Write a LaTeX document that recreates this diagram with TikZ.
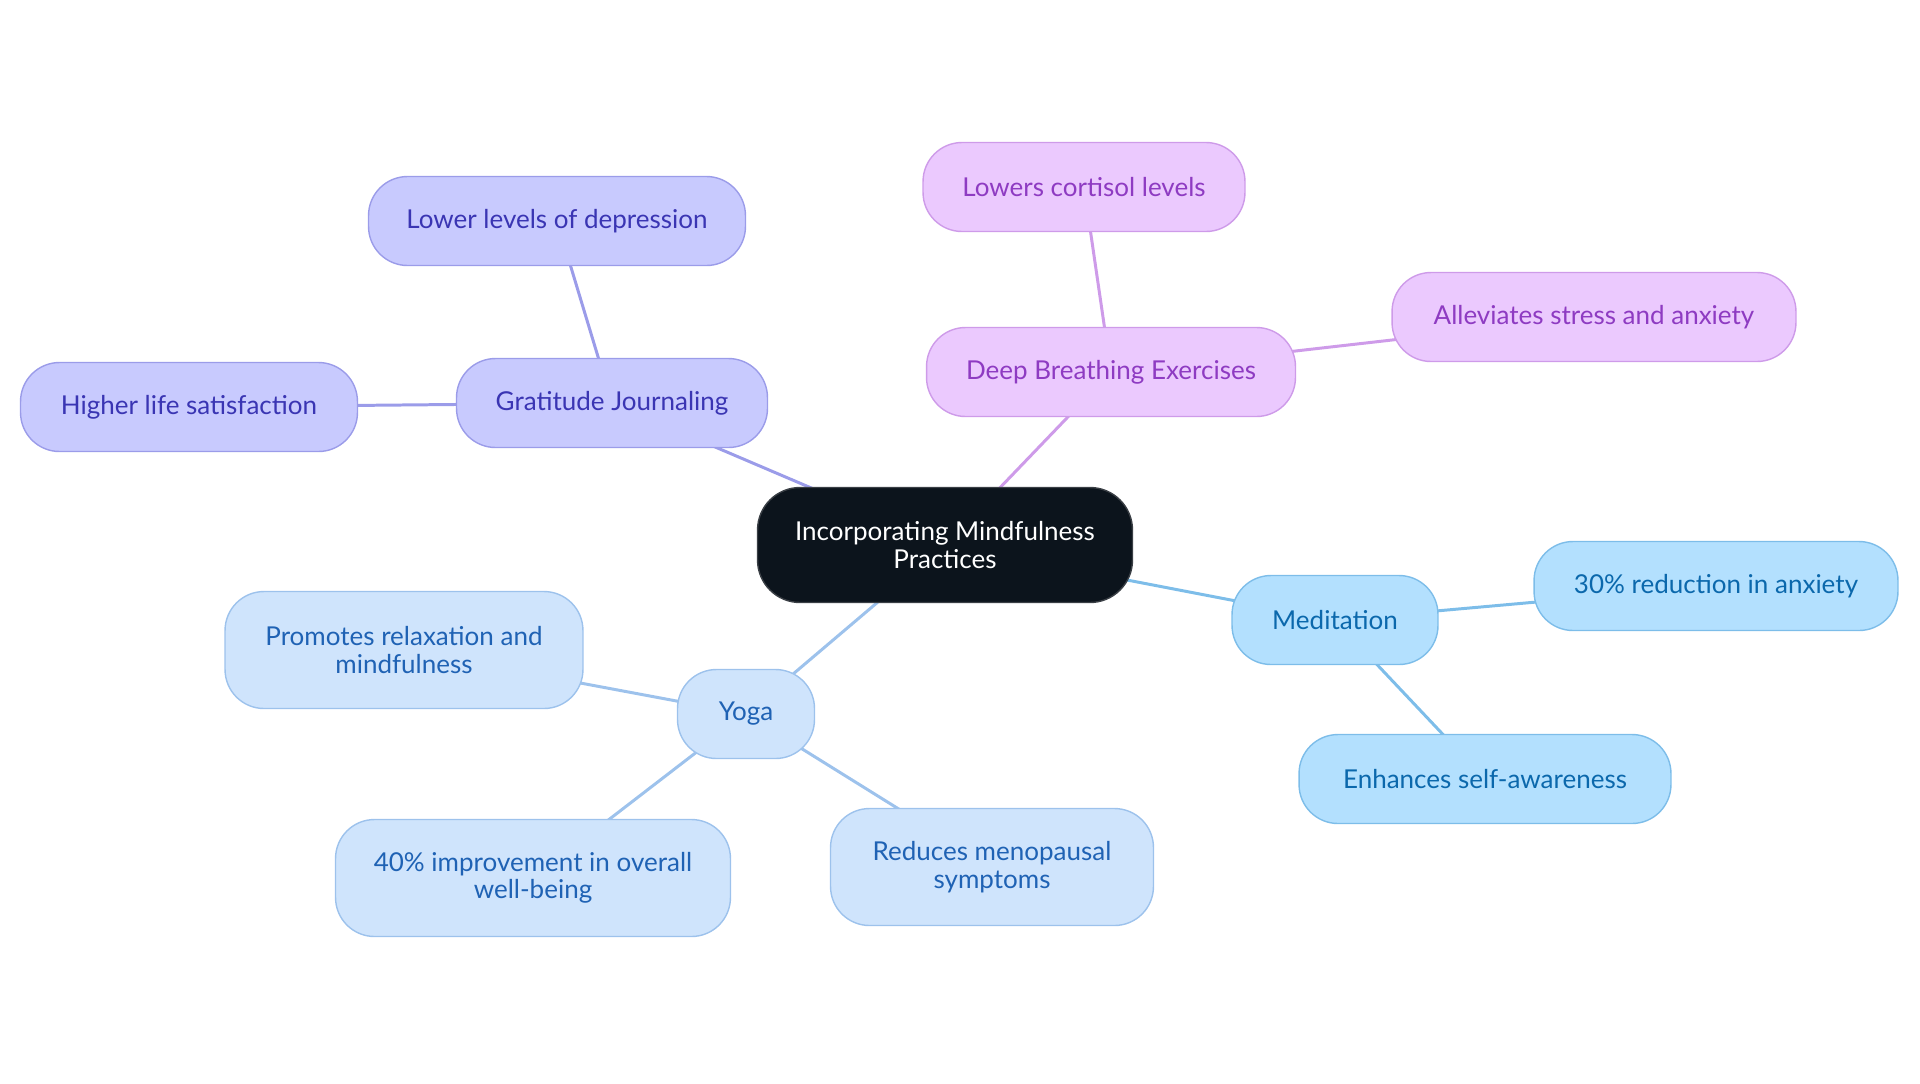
\documentclass[tikz,border=0pt]{standalone}
\usepackage{fontspec}
\setmainfont{Lato}
\usepackage{tikz}
\usetikzlibrary{backgrounds}

\definecolor{rootfill}{HTML}{0C141C}
\definecolor{rootline}{HTML}{3A3F45}
\definecolor{gjfill}{HTML}{C8CAFE}
\definecolor{gjline}{HTML}{9B9CE9}
\definecolor{gjtext}{HTML}{3A35B3}
\definecolor{dbfill}{HTML}{EBC9FE}
\definecolor{dbline}{HTML}{CE9BE9}
\definecolor{dbtext}{HTML}{8E3BC2}
\definecolor{mdfill}{HTML}{B3E0FE}
\definecolor{mdline}{HTML}{7DBDE9}
\definecolor{mdtext}{HTML}{0B68AC}
\definecolor{yofill}{HTML}{CFE4FC}
\definecolor{yoline}{HTML}{9DC2EC}
\definecolor{yotext}{HTML}{1F62B4}

\begin{document}
\begin{tikzpicture}[x=0.02cm, y=0.02cm,
    every node/.style={font=\fontsize{14.8}{15.6}\selectfont, align=center, inner sep=0pt},
    topic/.style={rectangle, rounded corners=0.78cm, draw, line width=0.8pt, minimum height=1.78cm},
    root/.style={topic, fill=rootfill, draw=rootline, text=white, minimum height=2.3cm, rounded corners=0.85cm},
    gj/.style={topic, fill=gjfill, draw=gjline, text=gjtext},
    db/.style={topic, fill=dbfill, draw=dbline, text=dbtext},
    md/.style={topic, fill=mdfill, draw=mdline, text=mdtext},
    yo/.style={topic, fill=yofill, draw=yoline, text=yotext},
    gjedge/.style={draw=gjline, line width=1.7pt},
    dbedge/.style={draw=dbline, line width=1.7pt},
    mdedge/.style={draw=mdline, line width=1.7pt},
    yoedge/.style={draw=yoline, line width=1.7pt}]
	\useasboundingbox (0,0) rectangle (1920,-1083);
	% centre
	\node [root, minimum width=7.5cm] (mind) at (945,-545) {Incorporating Mindfulness\\Practices};
	% gratitude journaling
	\node [gj, minimum width=6.22cm] (journal) at (612,-403) {Gratitude Journaling};
	\node [gj, minimum width=7.54cm] (depress) at (557,-221) {Lower levels of depression};
	\node [gj, minimum width=6.74cm] (satisf) at (189,-407) {Higher life satisfaction};
	% deep breathing
	\node [db, minimum width=7.38cm] (breath) at (1111,-372) {Deep Breathing Exercises};
	\node [db, minimum width=6.44cm] (cortisol) at (1084,-187) {Lowers cortisol levels};
	\node [db, minimum width=8.08cm] (stress) at (1594,-317) {Alleviates stress and anxiety};
	% meditation
	\node [md, minimum width=4.12cm] (medit) at (1335,-620) {Meditation};
	\node [md, minimum width=7.28cm] (anxiety) at (1716,-586) {30\% reduction in anxiety};
	\node [md, minimum width=7.44cm] (aware) at (1485,-779) {Enhances self-awareness};
	% yoga
	\node [yo, minimum width=2.74cm] (yoga) at (746,-714) {Yoga};
	\node [yo, minimum width=7.16cm, minimum height=2.34cm] (relax) at (404,-650) {Promotes relaxation and\\mindfulness};
	\node [yo, minimum width=7.9cm, minimum height=2.34cm] (wellb) at (533,-878) {40\% improvement in overall\\well-being};
	\node [yo, minimum width=6.46cm, minimum height=2.34cm] (menop) at (992,-867) {Reduces menopausal\\symptoms};
	% connectors, behind the boxes
	\begin{scope}[on background layer]
	\draw [gjedge] (mind.center) -- (journal.center);
	\draw [gjedge] (journal.center) -- (depress.center);
	\draw [gjedge] (journal.center) -- (satisf.center);
	\draw [dbedge] (mind.center) -- (breath.center);
	\draw [dbedge] (breath.center) -- (cortisol.center);
	\draw [dbedge] (breath.center) -- (stress.center);
	\draw [mdedge] (mind.center) -- (medit.center);
	\draw [mdedge] (medit.center) -- (anxiety.center);
	\draw [mdedge] (medit.center) -- (aware.center);
	\draw [yoedge] (mind.center) -- (yoga.center);
	\draw [yoedge] (yoga.center) -- (relax.center);
	\draw [yoedge] (yoga.center) -- (wellb.center);
	\draw [yoedge] (yoga.center) -- (menop.center);
	\end{scope}
\end{tikzpicture}
\end{document}
